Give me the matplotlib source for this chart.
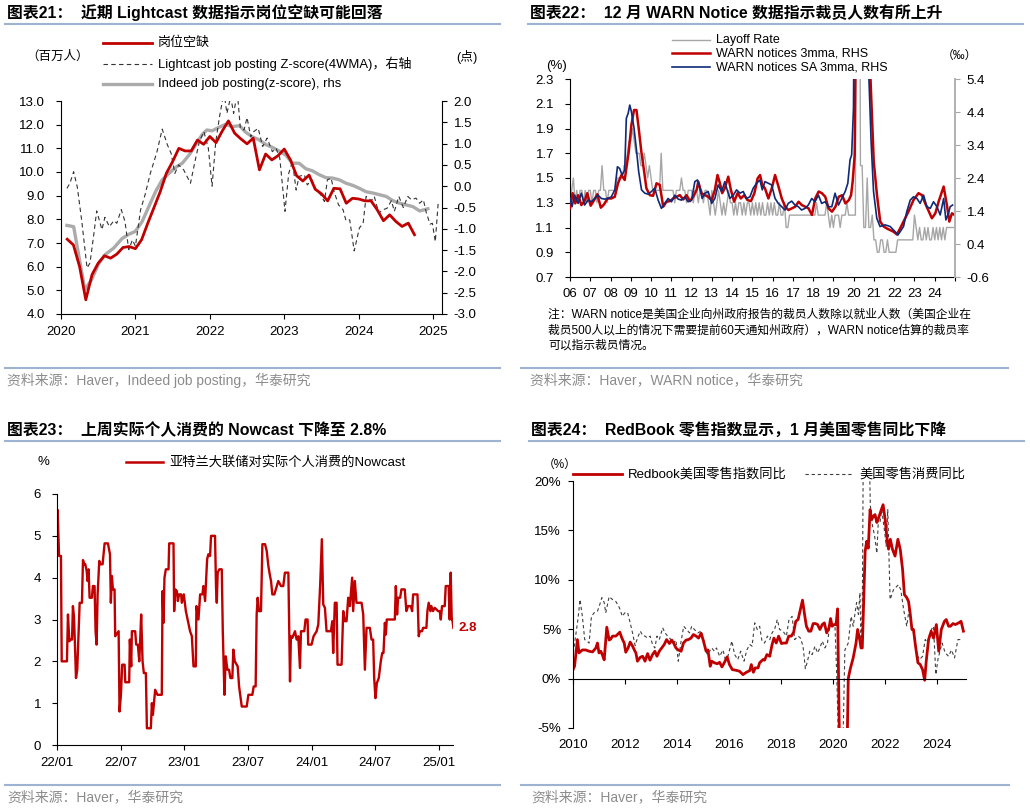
import numpy as np
import matplotlib
matplotlib.use('Agg')
import matplotlib.pyplot as plt
from matplotlib.lines import Line2D

plt.rcParams['font.family'] = ['Liberation Sans', 'Noto Sans CJK SC']
plt.rcParams['axes.unicode_minus'] = False
plt.rcParams['axes.linewidth'] = 0.8

# ---------------- data: chart 21 (job openings) ----------------
# JOLTS job openings, million, monthly Jan 2020 - Sep 2024
jolts = [7.16, 6.92, 6.0, 4.6, 5.66, 6.15, 6.46, 6.36, 6.53, 6.81, 6.85, 6.76,
         7.14, 7.84, 8.5, 9.17, 9.95, 10.44, 11.0, 10.89, 10.89, 11.35, 11.17, 11.5,
         11.24, 11.73, 12.16, 11.64, 11.4, 11.19, 11.43, 10.09, 10.76, 10.51, 10.69, 10.97,
         10.51, 9.84, 9.62, 9.87, 9.27, 9.08, 8.78, 9.31, 9.29, 8.68, 8.89, 8.86,
         8.78, 8.78, 8.4, 7.94, 8.19, 7.91, 7.70, 7.84, 7.35]
jolts_t = 2020 + np.arange(1, len(jolts) + 1) / 12

ind_t = [2020.08, 2020.17, 2020.32, 2020.41, 2020.50, 2020.59, 2020.71, 2020.82, 2020.91,
         2021.00, 2021.09, 2021.18, 2021.27, 2021.36, 2021.45, 2021.54, 2021.63, 2021.72, 2021.81, 2021.90, 2021.96,
         2022.03, 2022.12, 2022.21, 2022.30, 2022.40, 2022.48, 2022.57, 2022.66, 2022.75, 2022.84, 2022.93,
         2023.02, 2023.11, 2023.20, 2023.29, 2023.38, 2023.47, 2023.56, 2023.65, 2023.74, 2023.83, 2023.92,
         2024.01, 2024.10, 2024.19, 2024.28, 2024.37, 2024.46, 2024.55, 2024.64, 2024.73, 2024.82, 2024.93]
ind_v = [-0.92, -0.95, -2.43, -2.2, -1.84, -1.61, -1.45, -1.23, -1.13,
         -1.06, -0.83, -0.48, -0.13, 0.15, 0.30, 0.44, 0.54, 0.73, 0.97, 1.22, 1.32,
         1.30, 1.38, 1.45, 1.40, 1.42, 1.27, 1.16, 1.09, 0.98, 0.91, 0.83,
         0.73, 0.54, 0.54, 0.41, 0.36, 0.27, 0.20, 0.19, 0.15, 0.07, 0.02,
         -0.05, -0.13, -0.16, -0.20, -0.24, -0.34, -0.40, -0.44, -0.48, -0.58, -0.53]

lc_t = [2020.08, 2020.12, 2020.17, 2020.22, 2020.28, 2020.35, 2020.39, 2020.44, 2020.48, 2020.55,
        2020.59, 2020.65, 2020.71, 2020.75, 2020.81, 2020.86, 2020.91, 2020.96, 2021.00, 2021.07,
        2021.13, 2021.20, 2021.25, 2021.29, 2021.36, 2021.43, 2021.48, 2021.53, 2021.58, 2021.65,
        2021.74, 2021.81, 2021.86, 2021.92, 2021.98, 2022.03, 2022.08, 2022.13, 2022.19, 2022.23,
        2022.28, 2022.32, 2022.37, 2022.41, 2022.46, 2022.50, 2022.55, 2022.59, 2022.65, 2022.71,
        2022.77, 2022.84, 2022.89, 2022.94, 2023.01, 2023.06, 2023.11, 2023.16, 2023.20, 2023.27,
        2023.31, 2023.37, 2023.43, 2023.49, 2023.54, 2023.58, 2023.63, 2023.67, 2023.73, 2023.79,
        2023.83, 2023.88, 2023.94, 2024.01, 2024.06, 2024.10, 2024.17, 2024.21, 2024.27, 2024.33,
        2024.38, 2024.44, 2024.48, 2024.54, 2024.60, 2024.66, 2024.71, 2024.77, 2024.82, 2024.87,
        2024.91, 2024.96, 2024.99, 2025.03, 2025.07]
lc_v = [-0.05, 0.07, 0.34, -0.03, -0.83, -1.92, -1.80, -1.14, -0.58, -1.02,
        -0.73, -0.95, -0.81, -0.87, -0.55, -0.83, -1.49, -1.26, -1.41, -0.55,
        -0.20, 0.30, 0.58, 0.81, 1.34, 0.97, 0.77, 0.30, 0.50, 0.38,
        0.07, 0.66, 1.05, 1.28, 0.89, 0.00, 1.05, 1.63, 2.2, 1.71,
        2.1, 1.71, 2.2, 1.36, 1.32, 1.61, 1.16, 1.28, 1.36, 0.93,
        1.13, 0.81, 0.89, 0.66, -0.59, 0.30, 0.58, -0.09, 0.23, 0.27,
        0.03, 0.15, -0.09, -0.20, -0.36, 0.15, 0.19, -0.13, -0.44, -0.55,
        -0.81, -0.79, -1.52, -0.98, -0.87, -0.24, -0.34, -0.24, -0.63, -0.55,
        -0.52, -0.34, -0.59, -0.24, -0.50, -0.24, -0.32, -0.28, -0.40, -0.32,
        -0.63, -0.89, -0.87, -1.30, -0.36]

# ---------------- data: chart 22 (WARN notices) ----------------
# JOLTS layoff rate %, monthly 2006-2024
layoff = [1.3, 1.4, 1.5, 1.3, 1.4, 1.3, 1.4, 1.4, 1.3, 1.4, 1.3, 1.4,
          1.4, 1.3, 1.4, 1.4, 1.3, 1.4, 1.4, 1.6, 1.4, 1.4, 1.3, 1.4,
          1.4, 1.4, 1.4, 1.4, 1.5, 1.5, 1.5, 1.5, 1.6, 1.6, 1.7, 1.8,
          1.8, 1.9, 1.8, 1.7, 1.7, 1.7, 1.6, 1.6, 1.7, 1.6, 1.5, 1.6,
          1.5, 1.4, 1.4, 1.4, 1.4, 1.4, 1.7, 1.4, 1.4, 1.4, 1.4, 1.4,
          1.4, 1.4, 1.3, 1.4, 1.4, 1.4, 1.5, 1.4, 1.4, 1.3, 1.4, 1.4,
          1.4, 1.3, 1.4, 1.4, 1.3, 1.4, 1.4, 1.3, 1.4, 1.4, 1.3, 1.2,
          1.4, 1.3, 1.2, 1.3, 1.4, 1.3, 1.2, 1.3, 1.2, 1.3, 1.4, 1.3,
          1.3, 1.2, 1.3, 1.2, 1.3, 1.3, 1.2, 1.3, 1.2, 1.3, 1.3, 1.2,
          1.3, 1.2, 1.3, 1.2, 1.3, 1.2, 1.3, 1.2, 1.2, 1.3, 1.2, 1.3,
          1.2, 1.3, 1.2, 1.2, 1.3, 1.2, 1.2, 1.3, 1.1, 1.1, 1.2, 1.2,
          1.2, 1.2, 1.2, 1.2, 1.2, 1.2, 1.2, 1.2, 1.2, 1.2, 1.2, 1.2,
          1.2, 1.2, 1.3, 1.2, 1.2, 1.2, 1.2, 1.2, 1.3, 1.2, 1.1, 1.2,
          1.1, 1.2, 1.2, 1.2, 1.1, 1.2, 1.2, 1.2, 1.3, 1.2, 1.2, 1.2,
          1.2, 1.2, 7.5, 5.9, 1.6, 1.6, 1.1, 1.1, 1.5, 1.1, 1.1, 1.2,
          1.0, 1.0, 0.9, 0.9, 1.0, 1.0, 0.9, 0.9, 1.0, 0.9, 0.9, 0.9,
          0.9, 0.9, 1.0, 1.0, 1.0, 1.0, 1.0, 1.0, 1.0, 1.0, 1.0, 1.0,
          1.2, 1.1, 1.0, 1.1, 1.0, 1.0, 1.1, 1.0, 1.1, 1.0, 1.0, 1.1,
          1.0, 1.1, 1.0, 1.1, 1.0, 1.1, 1.0, 1.1, 1.1, 1.1, 1.1, 1.1]
lay_t = 2006 + np.arange(len(layoff)) / 12

warn_t = [2006.00, 2006.13, 2006.26, 2006.40, 2006.56, 2006.72, 2006.85,
          2007.02, 2007.19, 2007.35, 2007.52, 2007.68, 2007.85,
          2008.04, 2008.21, 2008.37, 2008.54, 2008.70, 2008.78, 2008.90,
          2009.03, 2009.16, 2009.28, 2009.39, 2009.52, 2009.66, 2009.77, 2009.94,
          2010.10, 2010.27, 2010.43, 2010.60, 2010.76, 2010.93,
          2011.09, 2011.26, 2011.42, 2011.59, 2011.75, 2011.92,
          2012.08, 2012.25, 2012.33, 2012.49, 2012.66, 2012.82, 2012.99,
          2013.15, 2013.28, 2013.40, 2013.51, 2013.64, 2013.81, 2013.94,
          2014.10, 2014.27, 2014.43, 2014.60, 2014.76, 2014.93,
          2015.10, 2015.26, 2015.38, 2015.49, 2015.62, 2015.79, 2015.96,
          2016.12, 2016.29, 2016.45, 2016.62, 2016.78, 2016.95,
          2017.11, 2017.28, 2017.44, 2017.61, 2017.77, 2017.94,
          2018.10, 2018.27, 2018.43, 2018.60, 2018.76, 2018.93,
          2019.10, 2019.26, 2019.43, 2019.59, 2019.76, 2019.87, 2019.95,
          2020.05, 2020.15, 2020.40, 2020.65, 2020.76, 2020.99,
          2021.15, 2021.31, 2021.48, 2021.64, 2021.97,
          2022.13, 2022.29, 2022.46, 2022.70, 2022.95,
          2023.20, 2023.37, 2023.53, 2023.86,
          2024.03, 2024.19, 2024.44, 2024.60, 2024.72, 2024.85, 2024.98]
warn = [1.48, 1.94, 1.63, 1.88, 1.58, 1.70, 1.94,
        1.56, 1.73, 1.91, 1.50, 1.60, 1.78,
        1.78, 1.83, 2.24, 2.49, 2.34, 2.69, 3.20,
        4.01, 4.46, 4.46, 3.91, 3.20, 2.59, 2.09, 1.88,
        1.86, 2.24, 2.19, 1.53, 1.68, 1.70,
        1.78, 1.83, 1.88, 1.75, 1.88, 1.70,
        1.83, 2.04, 2.29, 1.94, 1.88, 1.83, 1.73,
        2.04, 2.49, 2.24, 1.94, 2.09, 2.44, 2.04,
        1.68, 1.94, 1.78, 1.88, 1.73, 1.70,
        1.94, 2.39, 2.49, 2.19, 2.09, 1.78, 2.09,
        2.49, 2.14, 1.78, 1.53, 1.43, 1.48,
        1.53, 1.68, 1.58, 1.53, 1.48, 1.28,
        1.78, 1.99, 1.94, 1.83, 1.48, 1.38,
        1.53, 1.83, 1.88, 1.63, 1.73, 1.88, 2.29,
        3.10, 10.0, 30.0, 20.0, 6.5, 2.90,
        1.88, 1.08, 0.93, 0.87, 0.77,
        0.69, 0.87, 1.08, 1.38, 1.73,
        1.94, 1.88, 1.63, 1.18,
        1.33, 1.68, 2.14, 1.58, 1.08, 1.33, 1.28]

warnsa_t = [2006.00, 2006.10, 2006.23, 2006.40, 2006.56, 2006.72, 2006.89,
            2007.05, 2007.22, 2007.38, 2007.55, 2007.71, 2007.88,
            2008.04, 2008.21, 2008.34, 2008.45, 2008.57, 2008.70, 2008.78, 2008.87, 2008.95,
            2009.03, 2009.16, 2009.28, 2009.39, 2009.53, 2009.69, 2009.85,
            2010.02, 2010.18, 2010.35, 2010.51, 2010.68, 2010.84,
            2011.01, 2011.17, 2011.34, 2011.50, 2011.67, 2011.83,
            2012.00, 2012.16, 2012.29, 2012.41, 2012.52, 2012.66, 2012.82, 2012.99,
            2013.15, 2013.31, 2013.48, 2013.64, 2013.78, 2013.89,
            2014.06, 2014.22, 2014.39, 2014.55, 2014.71, 2014.88,
            2015.04, 2015.21, 2015.37, 2015.49, 2015.62, 2015.79, 2015.95,
            2016.12, 2016.28, 2016.45, 2016.61, 2016.77, 2016.94,
            2017.10, 2017.27, 2017.43, 2017.60, 2017.76, 2017.93,
            2018.09, 2018.26, 2018.42, 2018.59, 2018.75, 2018.92,
            2019.08, 2019.25, 2019.41, 2019.58, 2019.71, 2019.82, 2019.90, 2019.99,
            2020.05, 2020.40, 2020.62, 2020.72, 2020.86, 2020.98,
            2021.14, 2021.30, 2021.55, 2021.80,
            2022.05, 2022.18, 2022.29, 2022.46, 2022.62, 2022.79, 2022.95,
            2023.12, 2023.28, 2023.45, 2023.61, 2023.78, 2023.94,
            2024.11, 2024.27, 2024.44, 2024.55, 2024.68, 2024.76, 2024.88]
warnsa = [1.78, 1.53, 1.88, 1.63, 1.94, 1.58, 1.73,
          1.68, 1.78, 1.88, 1.78, 1.76, 1.78,
          1.83, 2.04, 2.74, 2.69, 2.49, 2.64, 4.21, 4.36, 4.61,
          4.41, 3.91, 3.25, 2.59, 2.04, 1.94, 1.91,
          1.99, 2.09, 1.73, 1.48, 1.63, 1.78,
          1.68, 1.88, 1.76, 1.73, 1.83, 1.68,
          1.73, 2.29, 2.34, 2.09, 1.78, 1.94, 1.99, 1.63,
          1.78, 2.19, 1.99, 2.29, 1.99, 1.78,
          1.88, 2.04, 1.94, 1.99, 1.78, 1.83,
          2.09, 2.24, 2.34, 2.04, 2.29, 2.24, 2.19,
          1.78, 1.63, 1.53, 1.43, 1.63, 1.70,
          1.58, 1.53, 1.43, 1.48, 1.58, 1.78,
          1.68, 1.88, 1.63, 1.68, 1.53, 1.53,
          1.94, 1.58, 1.78, 1.99, 2.24, 2.95, 3.10, 4.51,
          10.0, 30.0, 15.0, 6.0, 3.50, 1.99,
          1.18, 0.93, 0.98, 0.93,
          0.77, 0.67, 0.77, 0.93, 1.38, 1.73, 1.83,
          1.78, 1.63, 1.88, 1.53, 1.48, 1.68,
          1.53, 1.28, 1.78, 1.13, 1.33, 1.53, 1.58]

# ---------------- data: chart 23 (Atlanta Fed nowcast) ----------------
# years since Jan 2022
nc_t = [0.000, 0.005, 0.016, 0.031, 0.037, 0.078, 0.086, 0.097, 0.107, 0.118,
        0.125, 0.133, 0.141, 0.149, 0.159, 0.170, 0.178, 0.196, 0.204, 0.214,
        0.222, 0.233, 0.240, 0.248, 0.256, 0.274, 0.282, 0.295, 0.303, 0.311,
        0.319, 0.332, 0.342, 0.358, 0.374, 0.400, 0.416, 0.423, 0.431, 0.439,
        0.452, 0.457, 0.484, 0.491, 0.502, 0.512, 0.531, 0.536, 0.567, 0.572,
        0.583, 0.588, 0.614, 0.622, 0.635, 0.646, 0.653, 0.661, 0.672, 0.682,
        0.698, 0.706, 0.737, 0.745, 0.753, 0.761, 0.771, 0.789, 0.823, 0.829,
        0.836, 0.844, 0.855, 0.876, 0.881, 0.915, 0.920, 0.928, 0.941, 0.949,
        0.959, 0.975, 0.980, 0.996, 1.012, 1.045, 1.059, 1.072, 1.090, 1.095,
        1.111, 1.124, 1.142, 1.150, 1.163, 1.168, 1.179, 1.189, 1.202, 1.210,
        1.241, 1.249, 1.255, 1.262, 1.275, 1.294, 1.302, 1.315, 1.325, 1.338,
        1.351, 1.362, 1.377, 1.385, 1.396, 1.419, 1.430, 1.451, 1.490, 1.503,
        1.534, 1.545, 1.560, 1.568, 1.576, 1.586, 1.602, 1.613, 1.634, 1.647,
        1.660, 1.673, 1.681, 1.691, 1.707, 1.738, 1.759, 1.777, 1.790, 1.817,
        1.830, 1.837, 1.848, 1.869, 1.882, 1.895, 1.908, 1.916, 1.942, 1.952,
        1.968, 1.973, 1.999, 2.015, 2.039, 2.052, 2.067, 2.080, 2.091, 2.104,
        2.117, 2.151, 2.162, 2.169, 2.182, 2.196, 2.203, 2.235, 2.248, 2.261,
        2.274, 2.287, 2.300, 2.318, 2.326, 2.339, 2.352, 2.392, 2.405, 2.418,
        2.431, 2.457, 2.470, 2.483, 2.491, 2.501, 2.512, 2.527, 2.543, 2.554,
        2.564, 2.575, 2.582, 2.590, 2.653, 2.661, 2.671, 2.679, 2.695, 2.705,
        2.731, 2.744, 2.757, 2.778, 2.789, 2.797, 2.831, 2.841, 2.849, 2.867,
        2.875, 2.901, 2.909, 2.919, 2.933, 2.940, 2.953, 2.966, 2.993, 3.006,
        3.014, 3.024, 3.045, 3.053, 3.076, 3.084, 3.092, 3.100, 3.105, 3.113]
nc_v = [5.0, 5.62, 4.52, 4.52, 2.0, 2.0, 3.12, 2.48, 2.52, 2.52,
        3.32, 3.08, 2.4, 1.6, 1.8, 2.72, 3.4, 3.4, 4.42, 4.32,
        4.32, 4.16, 3.92, 4.2, 3.52, 3.52, 3.8, 3.8, 2.72, 2.4,
        3.6, 4.4, 4.32, 4.32, 4.82, 4.82, 4.56, 3.4, 4.04, 3.72,
        3.72, 2.6, 2.72, 0.8, 1.2, 1.92, 1.92, 1.5, 1.5, 2.52,
        1.88, 2.72, 2.72, 2.4, 2.4, 2.0, 2.48, 3.12, 2.0, 1.72,
        1.72, 0.4, 0.4, 1.0, 0.72, 1.0, 1.32, 1.2, 1.2, 3.68,
        2.92, 4.0, 4.2, 4.2, 4.82, 4.82, 3.2, 3.72, 3.68, 3.44,
        3.6, 3.6, 3.4, 3.6, 3.2, 2.72, 2.6, 1.88, 1.88, 3.32,
        3.0, 3.6, 3.6, 3.8, 3.44, 3.76, 4.44, 4.56, 4.52, 5.0,
        5.0, 3.76, 3.4, 4.12, 4.2, 4.2, 2.72, 1.2, 2.12, 1.8,
        1.8, 1.6, 1.6, 2.28, 2.0, 1.88, 1.4, 0.92, 0.92, 1.2,
        1.2, 1.4, 1.4, 3.12, 3.52, 3.2, 3.2, 4.8, 4.8, 4.64,
        4.28, 4.04, 3.92, 3.6, 3.6, 3.92, 3.8, 3.8, 4.12, 4.12,
        1.52, 2.6, 2.56, 2.72, 2.52, 2.6, 1.84, 2.72, 2.72, 3.0,
        3.0, 2.4, 2.4, 2.6, 2.72, 2.88, 3.84, 4.92, 3.36, 3.28,
        2.72, 2.72, 2.96, 2.2, 3.4, 3.4, 1.92, 1.92, 3.2, 2.96,
        2.96, 3.52, 3.32, 4.0, 3.2, 3.92, 3.4, 3.4, 3.12, 1.8,
        2.8, 2.8, 2.52, 2.52, 1.6, 1.12, 1.48, 1.6, 2.0, 2.2,
        2.2, 2.92, 2.64, 3.0, 3.0, 3.8, 3.12, 3.52, 3.52, 3.72,
        3.72, 3.2, 3.32, 3.32, 3.2, 3.6, 3.6, 2.6, 2.72, 2.72,
        2.8, 2.8, 3.2, 3.4, 3.2, 3.32, 3.2, 3.28, 3.2, 3.2,
        3.0, 3.32, 3.32, 3.8, 3.8, 3.0, 4.12, 3.0, 3.0, 2.8]
nc_ticks = ['22/01', '22/07', '23/01', '23/07', '24/01', '24/07', '25/01']

# ---------------- data: chart 24 (Redbook vs retail sales) ----------------
rb_t = [2010.00, 2010.06, 2010.17, 2010.23, 2010.36, 2010.49, 2010.62, 2010.75, 2010.88, 2010.94,
        2011.00, 2011.07, 2011.13, 2011.20, 2011.30, 2011.39, 2011.45, 2011.52, 2011.65, 2011.71,
        2011.80, 2011.88, 2011.97, 2012.03, 2012.12, 2012.20, 2012.29, 2012.36, 2012.42, 2012.48,
        2012.59, 2012.68, 2012.77, 2012.87, 2012.96, 2013.06, 2013.15, 2013.23, 2013.32, 2013.41,
        2013.51, 2013.60, 2013.71, 2013.80, 2013.87, 2013.96, 2014.05, 2014.16, 2014.25, 2014.35,
        2014.44, 2014.54, 2014.63, 2014.74, 2014.83, 2014.93, 2015.02, 2015.12, 2015.19, 2015.28,
        2015.34, 2015.44, 2015.55, 2015.64, 2015.73, 2015.83, 2015.93, 2016.02, 2016.13, 2016.28,
        2016.41, 2016.54, 2016.67, 2016.80, 2016.86, 2016.94, 2017.01, 2017.12, 2017.18, 2017.31,
        2017.37, 2017.46, 2017.57, 2017.66, 2017.73, 2017.82, 2017.91, 2018.02, 2018.11, 2018.21,
        2018.30, 2018.40, 2018.49, 2018.57, 2018.66, 2018.75, 2018.83, 2018.92, 2018.98, 2019.07,
        2019.15, 2019.24, 2019.33, 2019.41, 2019.50, 2019.59, 2019.67, 2019.76, 2019.85, 2019.91,
        2019.97, 2020.04, 2020.12, 2020.18, 2020.27, 2020.40, 2020.54, 2020.59, 2020.66, 2020.78,
        2020.89, 2020.95, 2021.04, 2021.08, 2021.13, 2021.24, 2021.30, 2021.36, 2021.43, 2021.49,
        2021.56, 2021.62, 2021.69, 2021.75, 2021.85, 2021.93, 2022.01, 2022.07, 2022.14, 2022.21,
        2022.29, 2022.39, 2022.50, 2022.59, 2022.68, 2022.75, 2022.84, 2022.91, 2022.97, 2023.04,
        2023.10, 2023.17, 2023.27, 2023.36, 2023.45, 2023.53, 2023.59, 2023.68, 2023.78, 2023.87,
        2023.98, 2024.07, 2024.17, 2024.29, 2024.36, 2024.45, 2024.52, 2024.62, 2024.71, 2024.84,
        2024.93, 2025.02]
rb_v = [0.9, 1.25, 3.95, 2.6, 2.9, 2.9, 2.77, 2.7, 3.1, 3.6,
        2.6, 2.77, 2.4, 1.9, 5.2, 3.9, 4.0, 4.3, 4.3, 4.46,
        4.7, 4.1, 3.6, 2.67, 3.1, 3.7, 3.3, 2.9, 2.6, 1.76,
        2.16, 2.26, 1.76, 2.53, 1.86, 2.43, 2.77, 2.26, 2.77, 3.1,
        3.45, 3.95, 3.55, 3.9, 3.6, 3.1, 2.9, 2.77, 3.6, 3.9,
        3.95, 4.1, 4.46, 4.3, 4.1, 4.6, 3.8, 2.77, 2.9, 1.25,
        1.76, 1.6, 1.5, 1.65, 1.18, 1.65, 2.2, 1.42, 0.91, 0.84,
        0.74, 0.4, 0.64, 0.81, 1.42, 0.64, 1.08, 1.08, 1.6, 1.93,
        1.86, 2.43, 2.26, 3.45, 4.1, 3.6, 4.3, 3.55, 3.6, 3.6,
        4.3, 4.3, 4.7, 5.8, 5.98, 7.0, 7.94, 6.3, 5.3, 4.8,
        4.8, 5.57, 5.57, 5.47, 4.97, 5.47, 5.64, 4.63, 5.14, 6.08,
        5.3, 5.47, 5.47, 7.06, -10, -18, -8, 0.0, 0.9, 2.1,
        3.6, 4.97, 3.8, 3.1, 3.1, 12.9, 13.9, 13.2, 17.1, 16.1,
        16.45, 16.6, 15.8, 16.2, 17.0, 17.6, 16.1, 14.4, 13.1, 14.1,
        13.1, 12.4, 14.1, 13.1, 11.05, 8.5, 8.2, 7.8, 6.65, 4.97,
        4.97, 3.45, 1.6, 1.42, 0.9, -0.17, 1.76, 3.95, 4.8, 4.1,
        5.47, 2.77, 4.97, 5.8, 5.98, 5.3, 5.3, 5.57, 5.47, 5.64,
        5.8, 4.8]

rs_t = [2010.01, 2010.10, 2010.19, 2010.27, 2010.36, 2010.45, 2010.53, 2010.62, 2010.71, 2010.81,
        2010.94, 2011.03, 2011.11, 2011.20, 2011.26, 2011.39, 2011.52, 2011.65, 2011.78, 2011.90,
        2011.99, 2012.10, 2012.20, 2012.29, 2012.39, 2012.48, 2012.59, 2012.68, 2012.77, 2012.87,
        2012.97, 2013.06, 2013.15, 2013.23, 2013.32, 2013.45, 2013.54, 2013.64, 2013.77, 2013.87,
        2013.96, 2014.05, 2014.16, 2014.26, 2014.35, 2014.48, 2014.57, 2014.67, 2014.80, 2014.93,
        2015.06, 2015.16, 2015.25, 2015.34, 2015.44, 2015.52, 2015.64, 2015.77, 2015.86, 2015.96,
        2016.11, 2016.22, 2016.34, 2016.45, 2016.58, 2016.69, 2016.80, 2016.89, 2016.99, 2017.09,
        2017.18, 2017.27, 2017.37, 2017.48, 2017.57, 2017.66, 2017.76, 2017.86, 2017.95, 2018.08,
        2018.21, 2018.31, 2018.43, 2018.53, 2018.66, 2018.75, 2018.85, 2018.94, 2019.02, 2019.11,
        2019.20, 2019.31, 2019.41, 2019.50, 2019.59, 2019.69, 2019.79, 2019.88, 2019.97, 2020.08,
        2020.15, 2020.23, 2020.31, 2020.39, 2020.46, 2020.53, 2020.59, 2020.70, 2020.78, 2020.91,
        2020.98, 2021.04, 2021.08, 2021.13, 2021.18, 2021.27, 2021.36, 2021.44, 2021.52, 2021.60,
        2021.69, 2021.75, 2021.81, 2021.88, 2022.01, 2022.05, 2022.11, 2022.20, 2022.33, 2022.52,
        2022.61, 2022.72, 2022.84, 2022.93, 2023.01, 2023.10, 2023.23, 2023.33, 2023.45, 2023.55,
        2023.64, 2023.75, 2023.87, 2023.96, 2024.04, 2024.13, 2024.20, 2024.32, 2024.45, 2024.56,
        2024.68, 2024.81, 2024.90]
rs_v = [2.6, 4.3, 6.0, 8.0, 6.3, 3.95, 3.8, 3.6, 6.3, 6.65,
        6.8, 7.5, 8.2, 7.7, 6.65, 8.3, 8.0, 7.8, 7.2, 6.3,
        6.65, 6.7, 5.64, 4.63, 3.35, 4.1, 4.8, 4.36, 4.3, 4.1,
        4.3, 3.45, 3.1, 4.3, 3.95, 5.14, 4.63, 4.3, 3.95, 3.6,
        3.9, 1.76, 3.8, 5.3, 5.03, 4.63, 5.3, 4.97, 4.63, 4.8,
        3.6, 2.43, 2.77, 3.1, 2.77, 3.1, 2.26, 2.9, 1.93, 2.26,
        3.8, 2.43, 1.93, 2.77, 1.76, 2.9, 3.45, 3.28, 5.64, 4.97,
        5.3, 3.8, 3.6, 4.3, 3.95, 4.63, 5.03, 5.98, 4.97, 4.8,
        4.3, 5.98, 6.3, 3.95, 4.3, 4.1, 3.28, 1.0, 1.76, 2.77,
        2.43, 3.28, 2.6, 3.1, 3.8, 3.1, 3.6, 5.37, 5.47, 5.3,
        0.07, -8, -20, -6, 2.9, 3.28, 3.6, 6.3, 5.3, 7.7,
        6.5, 8.7, 3.6, 7.0, 28, 51, 28, 17.5, 15.5, 14.5,
        12.7, 16.1, 15.8, 17.1, 14.4, 13.4, 17.1, 8.0, 9.0, 9.5,
        9.0, 7.0, 5.3, 7.0, 5.64, 4.6, 2.43, 1.93, 2.26, 3.95,
        3.6, 4.8, 5.3, 0.4, 1.93, 2.9, 3.6, 2.6, 2.26, 2.9,
        2.1, 3.95, 3.95]

# ---------------- layout helpers ----------------
W, H = 1030, 809
RED = '#C00000'
NAVY = '#0E2A78'
GREY = '#A6A6A6'
RULE = '#9DB3D1'
SRC = '#8C8C8C'


def fx(px):
    return px / W


def fy(py):
    return 1 - py / H


def box(l, t, r, b):
    return [l / W, 1 - b / H, (r - l) / W, (b - t) / H]


fig = plt.figure(figsize=(W / 100, H / 100), dpi=100)


def hline(x0, x1, y):
    fig.add_artist(Line2D([fx(x0), fx(x1)], [fy(y)] * 2, color=RULE, lw=1.5))


def frame(xt, yt, title, top_rule, src_rule, ys, src):
    fig.text(fx(xt), fy(yt), title, fontsize=11.4, fontweight='bold', va='center')
    hline(*top_rule)
    hline(*src_rule)
    fig.text(fx(xt), fy(ys), src, fontsize=10, color=SRC, va='center')


def key(x0, x1, y, label, size=9, **style):
    fig.add_artist(Line2D([fx(x0), fx(x1)], [fy(y)] * 2, **style))
    fig.text(fx(x1 + 6), fy(y), label, fontsize=size, va='center')


# ================= chart 21 =================
frame(7, 13, '图表21：  近期 Lightcast 数据指示岗位空缺可能回落',
      (5, 500, 24), (5, 500, 368), 380, '资料来源：Haver，Indeed job posting，华泰研究')

ax1 = fig.add_axes(box(61, 101, 442, 314))
ax1r = ax1.twinx()
ax1r.plot(ind_t, ind_v, color='#ABABAB', lw=2.4)
ax1r.plot(lc_t, lc_v, color='#333333', lw=0.8, ls=(0, (4, 3)))
ax1.plot(jolts_t, jolts, color=RED, lw=2.0)
ax1.set_zorder(ax1r.get_zorder() + 1)
ax1.patch.set_visible(False)

ax1.set_xlim(2020, 2025.12)
ax1.set_ylim(4, 13)
ax1r.set_ylim(-3, 2)
ax1.set_xticks(range(2020, 2026))
ax1.set_yticks(np.arange(4, 13.5, 1))
ax1.yaxis.set_major_formatter('{x:.1f}')
ax1r.set_yticks(np.arange(-3, 2.25, 0.5))
ax1r.yaxis.set_major_formatter('{x:.1f}')
ax1.tick_params(axis='y', length=3.5, pad=8, labelsize=9.5)
ax1.tick_params(axis='x', length=3.5, pad=5, labelsize=9.5)
ax1r.tick_params(axis='y', length=3.5, pad=5, labelsize=9.5)
ax1.spines['top'].set_visible(False)
ax1.spines['right'].set_visible(False)
for s in ('top', 'left', 'bottom'):
    ax1r.spines[s].set_visible(False)

key(103, 152, 43, '岗位空缺', size=9.4, color=RED, lw=2.0)
key(103, 152, 64, 'Lightcast job posting Z-score(4WMA)，右轴', size=9.4,
    color='#333333', lw=0.8, ls=(0, (4, 3)))
key(103, 152, 84, 'Indeed job posting(z-score), rhs', size=9.4, color='#ABABAB', lw=2.4)
fig.text(fx(26), fy(57), '（百万人）', fontsize=9, va='center')
fig.text(fx(456), fy(57), '(点)', fontsize=9.2, va='center')

# ================= chart 22 =================
frame(530, 13, '图表22：  12 月 WARN Notice 数据指示裁员人数有所上升',
      (528, 1023, 24), (521, 1008, 368), 380, '资料来源：Haver，WARN notice，华泰研究')

ax2 = fig.add_axes(box(570, 79, 955, 277))
ax2r = ax2.twinx()
ax2.plot(lay_t, layoff, color=GREY, lw=1.0)
ax2r.plot(warn_t, warn, color=RED, lw=1.8)
ax2r.plot(warnsa_t, warnsa, color=NAVY, lw=1.2)
ax2.set_xlim(2006, 2025)
ax2.set_ylim(0.7, 2.3)
ax2r.set_ylim(-0.6, 5.4)
ax2.set_yticks([0.7, 0.9, 1.1, 1.3, 1.5, 1.7, 1.9, 2.1, 2.3])
ax2.yaxis.set_major_formatter('{x:.1f}')
ax2r.set_yticks([-0.6, 0.4, 1.4, 2.4, 3.4, 4.4, 5.4])
ax2r.yaxis.set_major_formatter('{x:.1f}')
ax2.set_xticks(range(2006, 2026))
ax2.set_xticklabels([f'{y % 100:02d}' for y in range(2006, 2025)] + [''])
ax2.tick_params(axis='y', length=3.5, pad=8, labelsize=9.5)
ax2.tick_params(axis='x', length=3, pad=5, labelsize=9.5)
ax2r.tick_params(axis='y', length=3.5, pad=5, labelsize=9.5, color=GREY)
ax2.spines['top'].set_visible(False)
ax2.spines['right'].set_visible(False)
for s in ('top', 'left', 'bottom'):
    ax2r.spines[s].set_visible(False)
ax2r.spines['right'].set_color('#B0B0B0')
ax2r.spines['right'].set_linewidth(1.4)

key(672, 710, 40, 'Layoff Rate', color=GREY, lw=1.0)
key(672, 710, 53, 'WARN notices 3mma, RHS', color=RED, lw=1.8)
key(672, 710, 67, 'WARN notices SA 3mma, RHS', color=NAVY, lw=1.2)
fig.text(fx(546), fy(66), '(%)', fontsize=9.5, va='center')
fig.text(fx(942), fy(56), '（‰）', fontsize=8.5, va='center')

note = ['注：WARN notice是美国企业向州政府报告的裁员人数除以就业人数（美国企业在',
        '裁员500人以上的情况下需要提前60天通知州政府），WARN notice估算的裁员率',
        '可以指示裁员情况。']
for i, line in enumerate(note):
    fig.text(fx(548), fy(315 + 15.5 * i), line, fontsize=8.5, va='center')

# ================= chart 23 =================
frame(7, 430, '图表23：  上周实际个人消费的 Nowcast 下降至 2.8%',
      (5, 500, 441), (5, 500, 785), 797, '资料来源：Haver，华泰研究')

ax3 = fig.add_axes(box(57, 494, 453, 745))
nc_x = 2022 + np.array(nc_t)
ax3.plot(nc_x, nc_v, color=RED, lw=1.7)
ax3.set_xlim(2022, 2025.11)
ax3.set_ylim(0, 6)
ax3.set_xticks(np.arange(2022, 2025.1, 0.5))
ax3.set_xticklabels(nc_ticks)
ax3.set_yticks(range(0, 7))
ax3.tick_params(axis='y', length=3.5, pad=8, labelsize=9.5)
ax3.tick_params(axis='x', length=3.5, pad=5, labelsize=9.5)
ax3.spines['top'].set_visible(False)
ax3.spines['right'].set_visible(False)
ax3.annotate(f'{nc_v[-1]:.1f}', xy=(nc_x[-1], nc_v[-1]), xytext=(3.5, 0),
             textcoords='offset points', color=RED, fontsize=9.5,
             fontweight='bold', va='center', annotation_clip=False)

key(126, 163, 462, '亚特兰大联储对实际个人消费的Nowcast', size=9.5, color=RED, lw=1.8)
fig.text(fx(38), fy(462), '%', fontsize=9.5, va='center')

# ================= chart 24 =================
frame(531, 430, '图表24：  RedBook 零售指数显示，1 月美国零售同比下降',
      (529, 1024, 441), (521, 1009, 785), 797, '资料来源：Haver，华泰研究')

ax4 = fig.add_axes(box(573, 481, 966, 728))
ax4.plot(rs_t, rs_v, color='#404040', lw=0.8, ls=(0, (3, 2.5)))
ax4.plot(rb_t, rb_v, color=RED, lw=2.0)
ax4.set_xlim(2010, 2025.12)
ax4.set_ylim(-5, 20)
ax4.set_yticks(range(-5, 21, 5))
ax4.yaxis.set_major_formatter('{x:.0f}%')
ax4.set_xticks(range(2010, 2025, 2))
ax4.spines['bottom'].set_position(('data', 0))
ax4.spines['top'].set_visible(False)
ax4.spines['right'].set_visible(False)
ax4.tick_params(axis='x', length=3.5, labelbottom=False)
ax4.tick_params(axis='y', length=3.5, pad=5, labelsize=9.5)
sec = ax4.secondary_xaxis('bottom')
sec.set_xticks(range(2010, 2025, 2))
sec.spines['bottom'].set_visible(False)
sec.tick_params(length=0, pad=8, labelsize=9.5)

key(573, 622, 474, 'Redbook美国零售指数同比', size=9.5, color=RED, lw=2.0)
key(805, 853, 474, '美国零售消费同比', size=9.5, color='#404040', lw=0.8, ls=(0, (3, 2.5)))
fig.text(fx(543), fy(465), '（%）', fontsize=8.5, va='center')

fig.savefig('out.png', dpi=100)
